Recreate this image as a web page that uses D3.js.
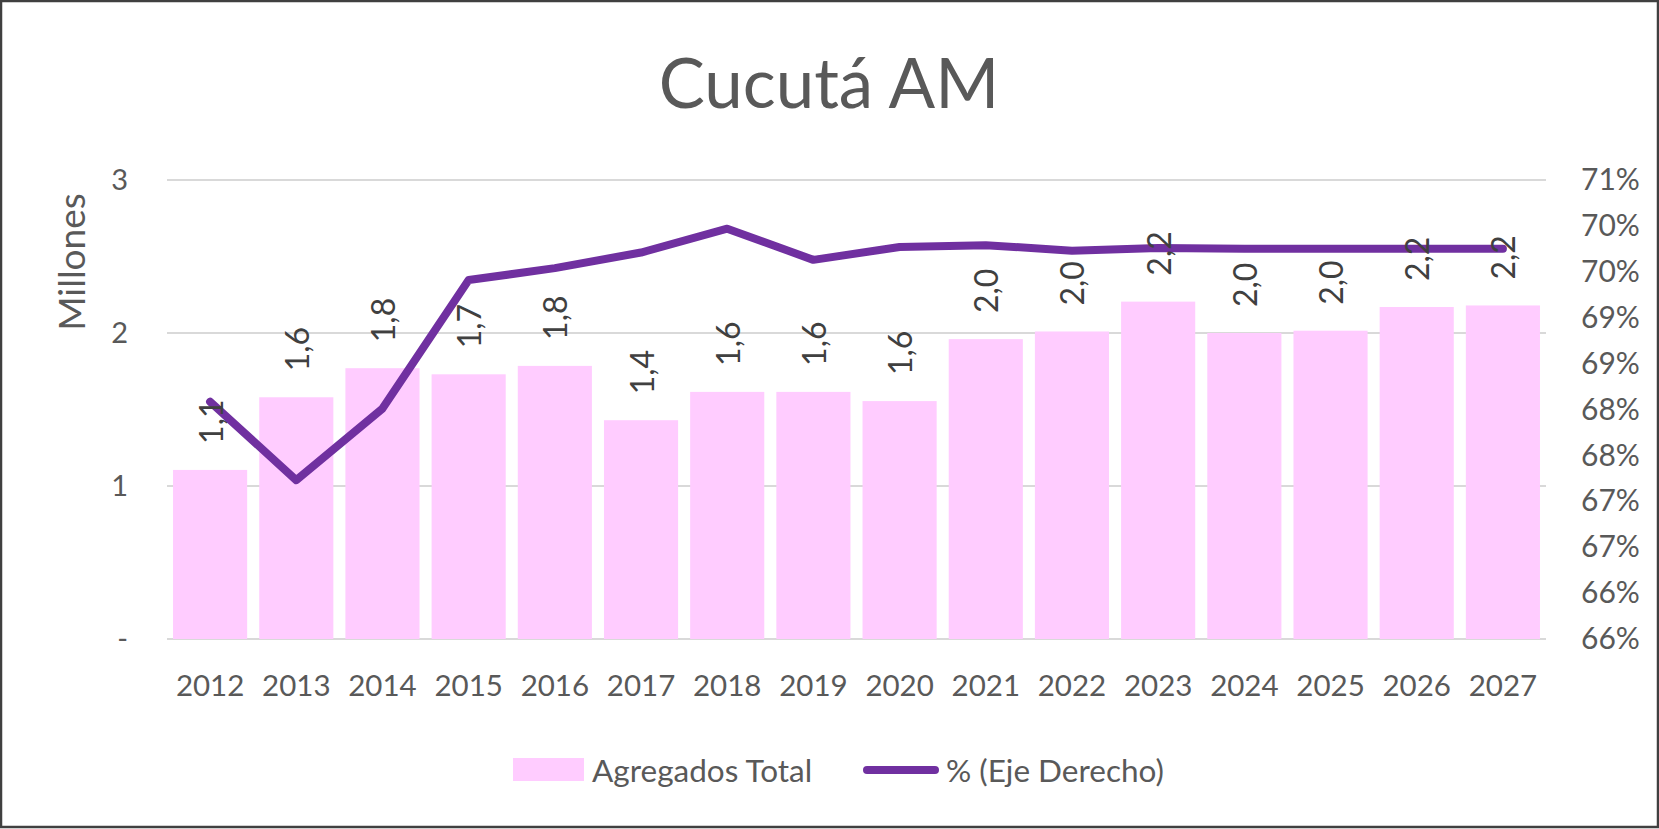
<!DOCTYPE html>
<html>
<head>
<meta charset="utf-8">
<script src="https://cdn.jsdelivr.net/npm/d3@7"></script>
<style>
  body { margin: 0; background: #fff; }
  text { font-family: Lato, "Open Sans", sans-serif; }
</style>
</head>
<body>
<div id="chart"></div>
<script>
let years = ["2012", "2013", "2014", "2015", "2016", "2017", "2018", "2019",
  "2020", "2021", "2022", "2023", "2024", "2025", "2026", "2027"];

// Agregados Total, millones
let totals = [1.105, 1.58, 1.77, 1.73, 1.785, 1.43, 1.615, 1.615,
  1.555, 1.96, 2.01, 2.205, 2.0, 2.015, 2.17, 2.18];

// % (Eje Derecho)
let shares = [0.68185, 0.6733, 0.6811, 0.6951, 0.6964, 0.6981, 0.7007, 0.6973,
  0.6987, 0.6989, 0.6983, 0.6986, 0.6985, 0.6985, 0.6985, 0.6985];

let leftTicks = [0, 1, 2, 3];
let leftTickLabels = ["-", "1", "2", "3"];
let rightDomain = [0.656, 0.706];
let rightStep = 0.005;

let svgWidth = 1659;
let svgHeight = 829;

let plot = { left: 167, right: 1546, top: 180, bottom: 639 };

let svg = d3.select("#chart")
  .append("svg")
  .attr("width", svgWidth)
  .attr("height", svgHeight);

svg.append("rect")
  .attr("x", 1)
  .attr("y", 1)
  .attr("width", svgWidth - 2)
  .attr("height", svgHeight - 3)
  .attr("fill", "#fff")
  .attr("stroke", "#404040")
  .attr("stroke-width", 2.5);

let xScale = d3.scaleBand()
  .domain(years)
  .range([plot.left, plot.right])
  .paddingInner(0.14)
  .paddingOuter(0.07);

let yLeft = d3.scaleLinear()
  .domain([0, 3])
  .range([plot.bottom, plot.top]);

let yRight = d3.scaleLinear()
  .domain(rightDomain)
  .range([plot.bottom, plot.top]);

// grid lines
svg.append("g")
  .selectAll("line")
  .data(leftTicks)
  .enter()
  .append("line")
  .attr("x1", plot.left)
  .attr("x2", plot.right)
  .attr("y1", d => yLeft(d))
  .attr("y2", d => yLeft(d))
  .attr("stroke", "#d9d9d9")
  .attr("stroke-width", 2);

// left axis
let leftAxis = d3.axisLeft(yLeft)
  .tickValues(leftTicks)
  .tickFormat((d, i) => leftTickLabels[i])
  .tickSize(0)
  .tickPadding(0);

let gLeft = svg.append("g")
  .attr("transform", `translate(128, 0)`)
  .call(leftAxis);
gLeft.select(".domain").remove();
gLeft.selectAll("text")
  .attr("font-size", 29)
  .attr("fill", "#595959")
  .style("font-family", "Lato, sans-serif");

// right axis
let rightTicks = d3.range(0, 11).map(i => rightDomain[0] + i * rightStep);
let rightAxis = d3.axisRight(yRight)
  .tickValues(rightTicks)
  .tickFormat(d3.format(".0%"))
  .tickSize(0)
  .tickPadding(0);

let gRight = svg.append("g")
  .attr("transform", `translate(1581, 0)`)
  .call(rightAxis);
gRight.select(".domain").remove();
gRight.selectAll("text")
  .attr("font-size", 30)
  .attr("fill", "#595959")
  .style("font-family", "Lato, sans-serif");

// bottom axis
let bottomAxis = d3.axisBottom(xScale)
  .tickSize(0)
  .tickPadding(0);

let gBottom = svg.append("g")
  .attr("transform", `translate(0, 675)`)
  .call(bottomAxis);
gBottom.select(".domain").remove();
gBottom.selectAll("text")
  .attr("font-size", 29.5)
  .attr("fill", "#595959")
  .style("font-family", "Lato, sans-serif");

// bars
svg.append("g")
  .selectAll("rect")
  .data(totals)
  .enter()
  .append("rect")
  .attr("x", (d, i) => xScale(years[i]))
  .attr("y", d => yLeft(d))
  .attr("width", xScale.bandwidth())
  .attr("height", d => yLeft(0) - yLeft(d))
  .attr("fill", "#ffccff");

// line on right axis
let line = d3.line()
  .x((d, i) => xScale(years[i]) + xScale.bandwidth() / 2)
  .y(d => yRight(d));

svg.append("path")
  .datum(shares)
  .attr("d", line)
  .attr("fill", "none")
  .attr("stroke", "#7030a0")
  .attr("stroke-width", 8)
  .attr("stroke-linejoin", "round")
  .attr("stroke-linecap", "round");

// data labels, rotated
let fmt = d => d3.format(".1f")(d).replace(".", ",");
svg.append("g")
  .selectAll("text")
  .data(totals)
  .enter()
  .append("text")
  .attr("transform", (d, i) => `translate(${xScale(years[i]) + xScale.bandwidth() / 2}, ${yLeft(d) - 26}) rotate(-90)`)
  .attr("text-anchor", "start")
  .attr("dominant-baseline", "central")
  .attr("font-size", 32)
  .attr("fill", "#404040")
  .text(fmt);

// title
svg.append("text")
  .attr("x", 829)
  .attr("y", 108)
  .attr("text-anchor", "middle")
  .attr("font-size", 69)
  .attr("fill", "#595959")
  .text("Cucutá AM");

// left axis title
svg.append("text")
  .attr("transform", "translate(70, 262) rotate(-90)")
  .attr("text-anchor", "middle")
  .attr("dominant-baseline", "central")
  .attr("font-size", 37)
  .attr("fill", "#595959")
  .text("Millones");

// legend
let legend = svg.append("g");
legend.append("rect")
  .attr("x", 513)
  .attr("y", 758)
  .attr("width", 71)
  .attr("height", 23)
  .attr("fill", "#ffccff");
legend.append("text")
  .attr("x", 592)
  .attr("y", 770)
  .attr("dominant-baseline", "central")
  .attr("font-size", 31.5)
  .attr("fill", "#595959")
  .text("Agregados Total");
legend.append("line")
  .attr("x1", 867)
  .attr("x2", 935)
  .attr("y1", 770)
  .attr("y2", 770)
  .attr("stroke", "#7030a0")
  .attr("stroke-width", 8)
  .attr("stroke-linecap", "round");
legend.append("text")
  .attr("x", 946)
  .attr("y", 770)
  .attr("dominant-baseline", "central")
  .attr("font-size", 31.5)
  .attr("fill", "#595959")
  .text("% (Eje Derecho)");
</script>
</body>
</html>
